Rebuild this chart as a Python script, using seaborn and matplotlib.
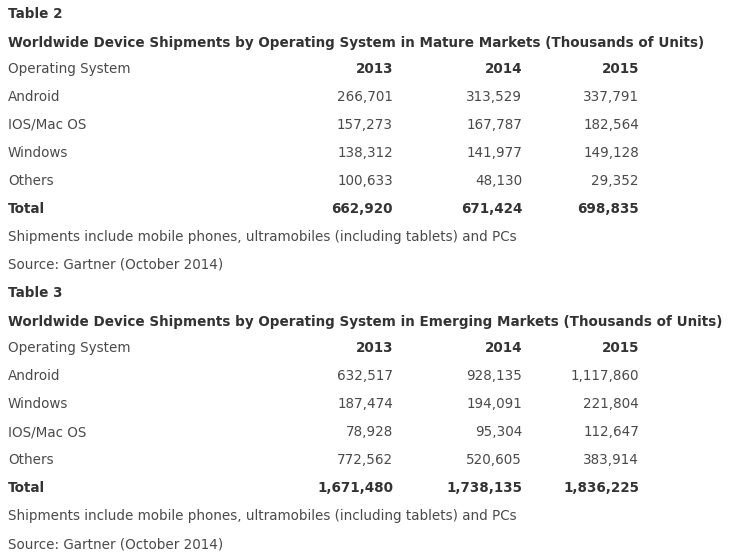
import matplotlib
matplotlib.use("Agg")
import matplotlib.pyplot as plt
import seaborn as sns

# Table data
years = ["2013", "2014", "2015"]

mature_os = ["Android", "IOS/Mac OS", "Windows", "Others"]
mature_vals = [
    [266701, 313529, 337791],
    [157273, 167787, 182564],
    [138312, 141977, 149128],
    [100633, 48130, 29352],
]
mature_total = [662920, 671424, 698835]

emerging_os = ["Android", "Windows", "IOS/Mac OS", "Others"]
emerging_vals = [
    [632517, 928135, 1117860],
    [187474, 194091, 221804],
    [78928, 95304, 112647],
    [772562, 520605, 383914],
]
emerging_total = [1671480, 1738135, 1836225]

footnote = "Shipments include mobile phones, ultramobiles (including tablets) and PCs"
source = "Source: Gartner (October 2014)"

sns.set_theme(style="white")
plt.rcParams['font.family'] = ['DejaVu Sans']

fig = plt.figure(figsize=(7.36, 5.58), dpi=100)
ax = fig.add_axes([0, 0, 1, 1])
ax.set_xlim(0, 736)
ax.set_ylim(558, 0)
ax.axis("off")

fs = 9.75
bold_c = "#333333"
reg_c = "#4a4a4a"
col_x = [393, 522, 639]  # right edges of the year columns
left_x = 8
step = 28


def draw_table(y0, label, title, os_names, vals, totals):
    ax.text(left_x, y0, label, fontsize=fs, fontweight="bold", color=bold_c, va="center")
    ax.text(left_x, y0 + 29, title, fontsize=fs, fontweight="bold", color=bold_c, va="center")
    y = y0 + 55
    ax.text(left_x, y, "Operating System", fontsize=fs, color=reg_c, va="center")
    for x, yr in zip(col_x, years):
        ax.text(x, y, yr, fontsize=fs, fontweight="bold", color=bold_c, va="center", ha="right")
    for name, row in zip(os_names, vals):
        y += step
        ax.text(left_x, y, name, fontsize=fs, color=reg_c, va="center")
        for x, v in zip(col_x, row):
            ax.text(x, y, f"{v:,}", fontsize=fs, color=reg_c, va="center", ha="right")
    y += step
    ax.text(left_x, y, "Total", fontsize=fs, fontweight="bold", color=bold_c, va="center")
    for x, v in zip(col_x, totals):
        ax.text(x, y, f"{v:,}", fontsize=fs, fontweight="bold", color=bold_c, va="center", ha="right")
    y += step
    ax.text(left_x, y, footnote, fontsize=fs, color=reg_c, va="center")
    y += step
    ax.text(left_x, y, source, fontsize=fs, color=reg_c, va="center")


draw_table(14, "Table 2",
           "Worldwide Device Shipments by Operating System in Mature Markets (Thousands of Units)",
           mature_os, mature_vals, mature_total)
draw_table(293, "Table 3",
           "Worldwide Device Shipments by Operating System in Emerging Markets (Thousands of Units)",
           emerging_os, emerging_vals, emerging_total)

fig.savefig("out.png", dpi=100, facecolor="white")
